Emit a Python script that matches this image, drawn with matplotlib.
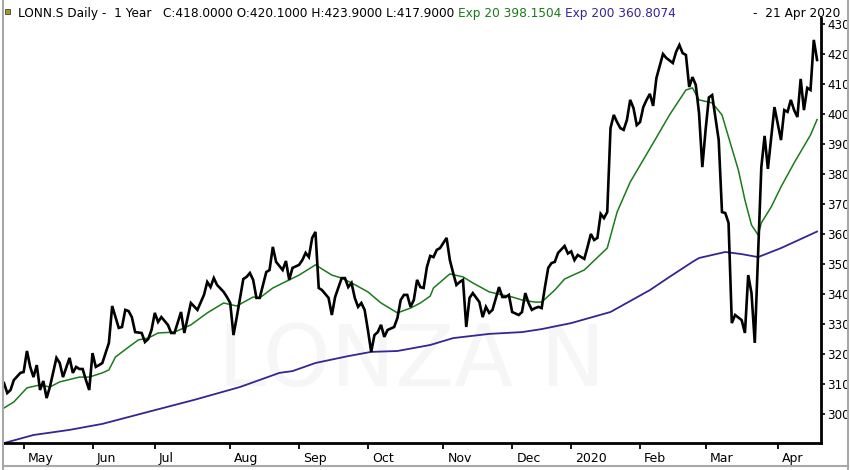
import numpy as np
import pandas as pd
import matplotlib
matplotlib.use("Agg")
import matplotlib.pyplot as plt
import matplotlib.transforms as mtransforms
from matplotlib.patches import Rectangle
from matplotlib.lines import Line2D

# trading calendar (SIX), one year to 21 Apr 2020
holidays = ["2019-05-01", "2019-05-30", "2019-06-10", "2019-08-01", "2019-12-24",
            "2019-12-25", "2019-12-26", "2019-12-31", "2020-01-01", "2020-01-02",
            "2020-04-10", "2020-04-13"]

# close (session number -> price)
close_day = [0, 1, 2, 3, 5, 6, 7, 8, 9, 10, 11, 12, 13, 14, 16, 17, 18, 20, 21, 22,
             23, 24, 25, 26, 27, 28, 29, 30, 32, 33, 34, 35, 36, 37, 38, 39, 40, 42, 43, 44,
             45, 46, 47, 48, 50, 51, 52, 54, 55, 57, 59, 61, 62, 63, 64, 65, 67, 68, 69, 70,
             71, 73, 74, 75, 76, 77, 78, 80, 81, 82, 83, 85, 86, 87, 88, 90, 91, 92, 93, 94,
             95, 96, 97, 99, 100, 101, 103, 104, 105, 106, 107, 108, 109, 110, 111, 112, 113, 114, 115, 116,
             117, 119, 120, 121, 122, 123, 124, 125, 126, 127, 128, 129, 130, 131, 132, 133, 134, 135, 136, 137,
             138, 139, 140, 141, 142, 143, 145, 146, 147, 148, 149, 151, 152, 153, 154, 155, 157, 158, 159, 160,
             161, 162, 163, 164, 165, 166, 167, 168, 169, 171, 172, 173, 174, 175, 177, 178, 179, 180, 181, 182,
             183, 184, 185, 186, 187, 188, 189, 190, 191, 192, 193, 194, 195, 196, 197, 198, 199, 201, 202, 204,
             205, 206, 207, 208, 209, 210, 211, 212, 213, 214, 215, 216, 218, 219, 220, 221, 222, 223, 225, 226,
             227, 228, 229, 231, 232, 233, 235, 237, 238, 239, 240, 241, 242, 243, 244, 245, 246, 247, 248]
close = [310.3, 307, 308, 311.3, 313.7, 314, 321, 315.7, 312.3, 316.3, 308, 311, 305.3, 309, 318.7, 317, 312.3, 318.7, 313.7, 315.7,
         315, 315, 311.3, 308, 320.3, 315.7, 316.3, 317, 323.7, 336, 332.3, 328.7, 329, 334.7, 334.3, 332.3, 327.3, 327, 324, 325,
         328, 333.7, 330.7, 332.3, 329.7, 327, 327, 334, 327, 337, 334.7, 339.7, 344, 342.3, 345.3, 343, 340.7, 339, 337, 326.3,
         332.3, 345, 345.7, 347, 344.7, 338.7, 338.7, 347.3, 348, 355.7, 350.7, 348, 351, 344.7, 348.7, 349.7, 351.3, 353.7, 352.3, 358.7,
         360.7, 342, 341.3, 338.7, 333, 339, 345.3, 345.3, 342.3, 343.7, 338.7, 335.7, 337, 334.7, 328, 320.7, 326.3, 327.3, 329.7, 325.7,
         328, 329, 332, 338, 339.7, 339.7, 335.7, 338, 344.7, 342.3, 342, 349, 352.7, 352.3, 354.7, 355.3, 357, 358.7, 351.3, 347,
         343, 344, 344.7, 329, 338.7, 340.3, 337.3, 332.3, 335.7, 333.7, 334.7, 342.3, 339, 339, 339.7, 334, 333, 334, 340.3, 337,
         334.7, 335.3, 335.7, 335.3, 342.3, 348.7, 350.3, 350.7, 353.7, 356, 353.5, 354.2, 351.3, 353, 351.7, 355.7, 360, 358, 358.7, 366.7,
         365.3, 367.3, 395.3, 399.7, 397.3, 395.3, 394.7, 398, 404.7, 402, 396.3, 397.3, 402.3, 404.7, 406.7, 402.7, 412, 420, 418.7, 417,
         420.7, 423, 420.3, 419.7, 409, 412.3, 409.7, 400.3, 382.3, 394.7, 405.5, 406.3, 391.3, 367.3, 367, 363.7, 330.3, 333, 331.3, 327,
         346.3, 340.3, 323.7, 382.3, 392.7, 381.7, 402.3, 391.3, 401.3, 400.7, 404.7, 401.3, 399, 411.7, 401.3, 408.7, 408, 424.7, 418]

# Exp 20 (green)
ema20_day = [0, 3, 7, 11, 14, 17, 23, 26, 30, 32, 34, 38, 41, 44, 47, 52, 57, 62, 67, 71,
             76, 78, 82, 87, 90, 95, 100, 103, 106, 111, 115, 120, 124, 127, 130, 131, 136, 140, 143, 148,
             152, 155, 158, 162, 164, 168, 171, 177, 184, 187, 191, 198, 203, 208, 210, 212, 216, 219, 221, 224,
             226, 228, 230, 231, 234, 237, 241, 246, 248]
ema20 = [302, 304, 308.7, 309.7, 309, 310.7, 312.3, 312.3, 313.7, 314.7, 319, 322.3, 324.7, 325.3, 327, 327.3, 329.7, 333.7, 337, 336,
         339, 338.7, 342, 344.7, 346.3, 349.7, 346.3, 345.3, 343.7, 340.7, 337, 333.7, 335.3, 337, 339.3, 342, 346.7, 345.7, 343.7, 340.7,
         339.7, 339, 338, 337.3, 337.3, 341.3, 345, 348, 355.3, 367.3, 377.3, 390.3, 399.7, 408, 408.7, 404.7, 403.7, 399.7, 392.3, 381.3,
         371.3, 363, 359.7, 363.7, 369, 375.7, 383.7, 393, 398.15]

# Exp 200 (purple)
ema200_day = [0, 9, 20, 30, 45, 58, 72, 84, 88, 95, 105, 112, 120, 130, 137, 148, 158, 164, 173, 185,
              197, 203, 210, 212, 220, 225, 230, 237, 248]
ema200 = [290.3, 293, 294.7, 296.7, 301, 304.7, 309, 313.7, 314.3, 317, 319.3, 320.7, 321, 323, 325.3, 326.7, 327.3, 328.3, 330.3, 334,
          341.3, 345.7, 350.7, 352, 354, 353.3, 352.3, 355.3, 360.81]

y_ticks = list(range(300, 431, 10))

header_black = "LONN.S Daily -  1 Year   C:418.0000 O:420.1000 H:423.9000 L:417.9000 "
header_green = "Exp 20 398.1504 "
header_purple = "Exp 200 360.8074"
header_date = "-  21 Apr 2020"
watermark = "LONZA N"

C_PRICE = "#000000"
C_EMA20 = "#1b7a1b"
C_EMA200 = "#3a2392"

sessions = pd.bdate_range("2019-04-23", "2020-04-21")
sessions = sessions[~sessions.isin(pd.to_datetime(holidays))]

month_pos, month_lab = [], []
for i in range(1, len(sessions)):
    d, p = sessions[i], sessions[i - 1]
    if d.month != p.month:
        month_pos.append(i)
        month_lab.append(str(d.year) if d.month == 1 else d.strftime("%b"))

W, H = 850, 470
fig = plt.figure(figsize=(W / 100, H / 100), dpi=100)
fig.patch.set_facecolor("white")
ax = fig.add_axes([3 / W, (H - 443) / H, 818 / W, (443 - 18) / H])

ax.text(0.499, 0.19, watermark, transform=ax.transAxes, ha="center", va="center",
        fontsize=62, color="#f6f6f6", family="DejaVu Sans", zorder=0)

ax.plot(ema200_day, ema200, color=C_EMA200, lw=1.3, zorder=2)
ax.plot(ema20_day, ema20, color=C_EMA20, lw=1.1, zorder=3)
ax.plot(close_day, close, color=C_PRICE, lw=1.9, zorder=4, solid_joinstyle="miter")

ax.set_xlim(-0.3, len(sessions) - 1 + 1.2)
ax.set_ylim(290.33, 432)

for s in ["top", "left"]:
    ax.spines[s].set_visible(False)
for s in ["bottom", "right"]:
    ax.spines[s].set_linewidth(2)
    ax.spines[s].set_color("black")

ax.yaxis.tick_right()
ax.set_yticks(y_ticks)
ax.set_yticklabels([str(v) for v in y_ticks])
ax.tick_params(axis="y", direction="out", length=3, width=1.2, pad=1.5, labelsize=8.6,
               colors="black")
for lab in ax.get_yticklabels():
    lab.set_family("DejaVu Sans")

ax.set_xticks(month_pos)
ax.set_xticklabels(month_lab)
ax.tick_params(axis="x", direction="out", length=4.5, width=1.3, pad=2, labelsize=9)
shift = mtransforms.ScaledTranslation(3 / 72, 0, fig.dpi_scale_trans)
for lab in ax.get_xticklabels():
    lab.set_family(["Liberation Sans Narrow", "DejaVu Sans"])
    lab.set_horizontalalignment("left")
    lab.set_transform(lab.get_transform() + shift)

# header line
hdr_font = dict(fontsize=8.7, family=["DejaVu Sans"])
t1 = fig.text(18 / W, 1 - 17 / H, header_black, color="black", va="baseline", **hdr_font)
t2 = ax.annotate(header_green, xy=(1, 0), xycoords=t1, va="bottom", ha="left",
                 color=C_EMA20, annotation_clip=False, **hdr_font)
ax.annotate(header_purple, xy=(1, 0), xycoords=t2, va="bottom", ha="left",
            color=C_EMA200, annotation_clip=False, **hdr_font)
fig.text(840 / W, 1 - 17 / H, header_date, color="black", va="baseline", ha="right", **hdr_font)

# little chart icon and window frame
fig.patches.append(Rectangle((5 / W, 1 - 14 / H), 5 / W, 5 / H, transform=fig.transFigure,
                             facecolor="#9a9a3a", edgecolor="#444422", lw=0.6))
for xs, ys in [([2.5 / W, 2.5 / W], [0, 1]), ([848 / W, 848 / W], [0, 1]),
               ([2.5 / W, 848 / W], [1 - 466 / H, 1 - 466 / H])]:
    fig.add_artist(Line2D(xs, ys, transform=fig.transFigure, color="#a8a8a8", lw=1.5))

fig.savefig("out.png", dpi=100, facecolor="white")
